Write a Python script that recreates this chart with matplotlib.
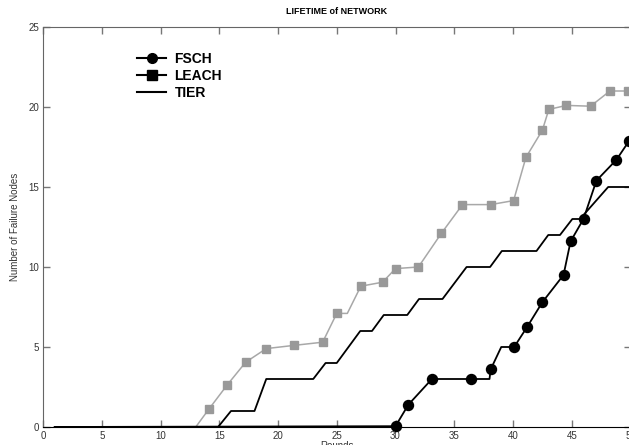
import numpy as np
import matplotlib
matplotlib.use('Agg')
import matplotlib.pyplot as plt
from matplotlib.lines import Line2D

plt.rcParams['font.family'] = ['Liberation Sans', 'DejaVu Sans']

# FSCH
fsch_x = [1, 30.0, 31.1, 33.1, 36.4, 38.0, 38.1, 39.0, 40.1, 41.2, 42.5, 44.3, 44.9, 46.0, 47.1, 48.8, 49.9]
fsch_y = [0, 0.05, 1.4, 3.0, 3.0, 3.0, 3.6, 5.0, 5.0, 6.25, 7.8, 9.5, 11.6, 13.0, 15.4, 16.7, 17.9]
fsch_marks = [1, 2, 3, 4, 6, 8, 9, 10, 11, 12, 13, 14, 15, 16]

# LEACH
leach_x = [1, 13.0, 14.1, 15.7, 17.25, 19.0, 21.35, 23.8, 25.0, 25.9, 27.05, 28.9, 30.0, 31.95,
           33.9, 35.7, 38.1, 40.05, 41.1, 42.5, 43.05, 44.55, 46.6, 48.25, 49.8]
leach_y = [0, 0, 1.1, 2.65, 4.05, 4.9, 5.1, 5.3, 7.1, 7.1, 8.8, 9.05, 9.9, 10.0,
           12.1, 13.9, 13.9, 14.15, 16.85, 18.55, 19.85, 20.1, 20.05, 21.0, 21.0]
leach_marks = [i for i in range(len(leach_x)) if i not in (0, 1, 9)]

# TIER
tier_x = [1, 14.9, 16.0, 18.0, 19.0, 23.0, 24.05, 25.0, 27.0, 28.0, 29.0, 31.0, 32.0, 34.0,
          36.05, 38.05, 39.05, 42.0, 43.0, 44.0, 45.05, 45.7, 48.1, 50]
tier_y = [0, 0, 1, 1, 3, 3, 4, 4, 6, 6, 7, 7, 8, 8, 10, 10, 11, 11, 12, 12, 13, 13, 15, 15]

x_ticks = np.arange(0, 51, 5)
y_ticks = np.arange(0, 26, 5)

W, H = 629, 445
fig = plt.figure(figsize=(W / 100, H / 100), dpi=100)
ax = fig.add_axes([43 / W, (H - 427) / H, (630.5 - 43) / W, 400 / H])

ax.plot(leach_x, leach_y, color='#a8a8a8', lw=1.1, marker='s', ms=6,
        markerfacecolor='#999999', markeredgecolor='#999999', markevery=leach_marks,
        clip_on=False)
ax.plot(tier_x, tier_y, color='black', lw=1.3, clip_on=False)
ax.plot(fsch_x, fsch_y, color='black', lw=1.3, marker='o', ms=7.2,
        markerfacecolor='black', markeredgecolor='black', markevery=fsch_marks,
        clip_on=False)

ax.set_xlim(0, 50)
ax.set_ylim(0, 25)
ax.set_xticks(x_ticks)
ax.set_yticks(y_ticks)
ax.tick_params(direction='in', top=True, right=True, length=5, width=1,
               color='#777777', labelsize=7, labelcolor='#333333', pad=3)
for side in ['left', 'right', 'top']:
    ax.spines[side].set_color('#666666')
ax.spines['bottom'].set_color('black')

ax.set_title('LIFETIME of NETWORK', fontsize=6.5, fontweight='bold', pad=9)
ax.set_ylabel('Number of Failure Nodes', fontsize=7, color='#333333', labelpad=6)
fig.text(336.7 / W, (H - 441) / H, 'Rounds', fontsize=7, color='#333333', ha='center', va='top')

handles = [
    Line2D([], [], color='black', lw=1.5, marker='o', ms=7, markerfacecolor='black'),
    Line2D([], [], color='black', lw=1.5, marker='s', ms=6.5, markerfacecolor='black'),
    Line2D([], [], color='black', lw=1.5),
]
ax.legend(handles, ['FSCH', 'LEACH', 'TIER'], loc='upper left',
          bbox_to_anchor=(137 / W, (H - 52) / H), bbox_transform=fig.transFigure,
          frameon=False, borderpad=0, borderaxespad=0, handlelength=2.1,
          handletextpad=0.6, labelspacing=0.2, prop={'weight': 'bold', 'size': 10})

fig.savefig('out.png', dpi=100)
